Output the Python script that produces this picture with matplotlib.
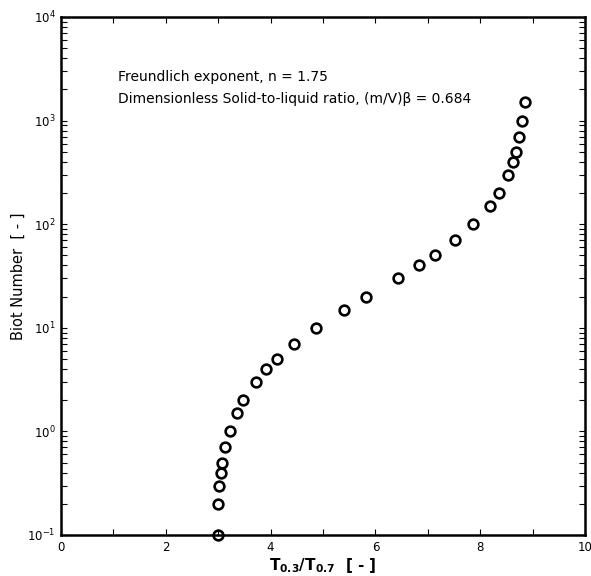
import numpy as np
import matplotlib
matplotlib.use("Agg")
import matplotlib.pyplot as plt
from matplotlib.ticker import MultipleLocator, LogLocator, NullFormatter

# T0.3/T0.7 vs Biot number
ratio = [3.00, 3.00, 3.02, 3.06, 3.08, 3.13, 3.22, 3.36, 3.48, 3.72,
         3.92, 4.12, 4.45, 4.86, 5.40, 5.82, 6.43, 6.83, 7.13, 7.51,
         7.87, 8.19, 8.35, 8.53, 8.62, 8.68, 8.74, 8.80, 8.85]
biot = [0.1, 0.2, 0.3, 0.4, 0.5, 0.7, 1, 1.5, 2, 3,
        4, 5, 7, 10, 15, 20, 30, 40, 50, 70,
        100, 150, 200, 300, 400, 500, 700, 1000, 1500]

n_freundlich = 1.75
solid_liquid = 0.684

plt.rcParams['font.family'] = ['DejaVu Sans']

fig = plt.figure(figsize=(5.91, 5.76), dpi=100)
ax = fig.add_axes([61/591, 41/576, 524/591, 518/576])

ax.plot(ratio, biot, 'o', ms=7, mfc='none', mec='black', mew=1.9, clip_on=False, zorder=3)

ax.set_yscale('log')
ax.set_xlim(0, 10)
ax.set_ylim(0.1, 1e4)

ax.xaxis.set_major_locator(MultipleLocator(2))
ax.xaxis.set_minor_locator(MultipleLocator(1))
ax.yaxis.set_major_locator(LogLocator(base=10, numticks=10))
ax.yaxis.set_minor_locator(LogLocator(base=10, subs=np.arange(2, 10), numticks=20))
ax.yaxis.set_minor_formatter(NullFormatter())

for s in ax.spines.values():
    s.set_linewidth(1.8)
ax.tick_params(which='both', direction='in', top=True, right=True,
               width=0.8, labelsize=8.5)
ax.tick_params(which='major', length=4.5, pad=4)
ax.tick_params(which='minor', length=4.5)

ax.set_xlabel(r'$\mathbf{T_{0.3}/T_{0.7}}$  [ - ]', fontsize=11, fontweight='bold', labelpad=2)
ax.set_ylabel('Biot Number  [ - ]', fontsize=10.5, labelpad=1)

ax.text(0.109, 0.884, f'Freundlich exponent, n = {n_freundlich}', transform=ax.transAxes,
        fontsize=10, va='center')
ax.text(0.109, 0.842, f'Dimensionless Solid-to-liquid ratio, (m/V)β = {solid_liquid}',
        transform=ax.transAxes, fontsize=10, va='center')

fig.savefig('out.png', dpi=100)
